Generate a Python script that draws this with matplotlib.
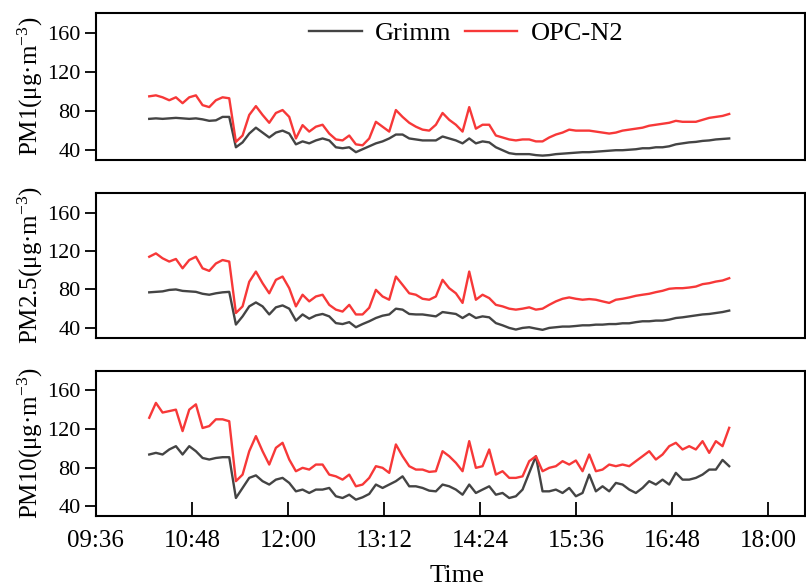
import matplotlib
matplotlib.use("Agg")
import matplotlib.pyplot as plt
import pandas as pd

plt.rcParams['font.family'] = ['Liberation Serif', 'DejaVu Serif']
plt.rcParams['mathtext.fontset'] = 'custom'
plt.rcParams['mathtext.rm'] = 'Liberation Serif'
plt.rcParams['mathtext.it'] = 'Liberation Serif:italic'

# ---- data (5-minute samples starting 10:16) ----
start_time = "2000-01-01 10:16"
step = "5min"

pm1_opc = [95, 96, 94, 91, 94, 88, 94, 96, 86, 84, 91, 94, 93,
           48.5, 55, 76, 85, 76, 68, 78, 81, 74, 52, 65.6, 59, 64, 66, 57, 51, 50,
           55, 46, 45, 52, 69, 64, 59, 81, 74, 68, 64, 61, 60,
           66, 78, 71, 66, 59, 84, 62, 66, 66, 55, 53, 51, 50, 51, 51, 49, 49,
           53, 56, 58, 61, 60, 60, 60, 59, 58, 57, 58, 60, 61, 62, 63, 65, 66,
           67, 68, 70, 69, 69, 69, 71, 73, 74, 75, 77]
pm1_grimm = [72, 72.5, 72, 72.5, 73, 72.5, 72, 72.5, 71.5, 70, 70.5, 74, 74,
             43, 48, 57, 63, 58, 53, 58, 60, 57, 46, 49, 47, 50, 52, 50, 43, 42,
             43, 38, 41, 44, 47, 49, 52, 56, 56, 52, 51, 50, 50,
             50, 54, 52, 50, 47, 52, 47, 49, 48, 43, 40, 37, 36, 36, 36, 35, 34.5,
             35, 36, 36.5, 37, 37.5, 38, 38, 38.5, 39, 39.5, 40, 40, 40.5, 41, 42, 42, 43,
             43, 44, 46, 47, 48, 48.5, 49.5, 50, 51, 51.5, 52]

pm25_opc = [114, 117.5, 112.4, 109, 111.7, 102, 110.6, 114, 102, 99.3, 107, 110.6, 109,
            55.5, 62.4, 88, 98.6, 86.5, 76, 90, 93.4, 81.3, 62.4, 74.5, 67.6, 72.7, 74.5, 64, 59, 57,
            64, 54, 54, 61, 79.6, 72.7, 69.3, 93.4, 84.8, 76, 74.5, 70.3, 69.3,
            72.7, 90, 81.3, 76, 66, 98.6, 69.3, 74.5, 71, 64, 62.4, 60, 59, 60, 61.4, 59, 60,
            64, 67.6, 70.3, 71.7, 70.3, 69.3, 70, 69.3, 67.6, 66, 69.3, 70.3, 71.7, 73.4, 74.5, 75.5, 77.2,
            78.6, 80.7, 81.3, 81.3, 82, 83, 85.5, 86.5, 88.2, 89.3, 91.7]
pm25_grimm = [77, 77.5, 78, 79.5, 80, 78.5, 78, 77.5, 75.5, 74.5, 76, 77, 77.5,
              43.5, 52, 62.4, 66.5, 62.4, 54, 61.4, 63.4, 60, 47.6, 54, 49.6, 53, 54.5, 52, 45, 44,
              46, 40.7, 44, 46.9, 50.3, 52.7, 54, 60, 59, 54.5, 54, 54, 53,
              52, 56.5, 55.5, 54.5, 50.3, 54.5, 50.3, 52, 51, 45, 42.7, 40, 38.3, 40, 40.7, 39.3, 38,
              40, 40.7, 41.4, 41.4, 42, 42.7, 42.7, 43.4, 43.4, 44, 44, 44.8, 44.8, 46, 46.9, 46.9, 47.6,
              47.6, 48.6, 50.3, 51, 52, 53, 54, 54.5, 55.5, 56.5, 58]

pm10_opc = [131.6, 147, 137, 138.5, 140, 117.8, 140, 145.5, 121, 123, 130, 130, 128,
            66, 72.8, 97, 112.6, 97, 83.2, 100.5, 105.7, 88.4, 76.3, 79.8, 78, 83.2, 83.2, 72.8, 71, 67.6,
            72.8, 60.7, 62.5, 69.4, 81.5, 79.8, 74.6, 104, 91.8, 81.5, 78, 78, 75.6,
            76.3, 97, 91.8, 85, 76.3, 107.4, 79.8, 81.5, 98.8, 72.8, 76.3, 69.4, 69.4, 71, 86.7, 91.8, 76.3,
            79.8, 81.5, 86.7, 83.2, 87.4, 76.3, 93.6, 76.3, 78, 83.2, 81.5, 83.2, 81.5, 86.7, 91.8, 97, 88.4,
            93.6, 102.2, 105.7, 98.8, 102.2, 98.8, 107.4, 95.3, 107.4, 102.2, 121.2]
pm10_grimm = [93.6, 95.3, 93.6, 98.8, 102.2, 93.6, 102.2, 97, 90, 88.4, 90, 90.8, 90.8,
              48.6, 59, 69.4, 72, 66, 62.5, 67.6, 69.4, 64.2, 55.5, 57.3, 53.8, 57.3, 57.3, 59, 50.4, 48.6,
              52, 46.9, 49.3, 52.8, 62.5, 59, 62.5, 66, 71, 60.7, 60.7, 59, 56.2,
              55.5, 62.5, 60.7, 57.3, 52, 62.5, 53.8, 57.3, 60.7, 52, 53.8, 48.6, 50.4, 57.3, 74.6, 91.8, 55.5,
              55.5, 57.3, 53.8, 59, 50.4, 53.8, 72.8, 55.5, 60.7, 55.5, 64.2, 62.5, 57.3, 53.8, 59, 66, 62.5,
              67.6, 62.5, 74.6, 67.6, 67.6, 69.4, 72.8, 78, 78, 88, 81.5]

panels = [
    (pm1_grimm, pm1_opc, r'PM1(μg·m$^{-3}$)'),
    (pm25_grimm, pm25_opc, r'PM2.5(μg·m$^{-3}$)'),
    (pm10_grimm, pm10_opc, r'PM10(μg·m$^{-3}$)'),
]
yticks = [40, 80, 120, 160]
xtick_labels = ["09:36", "10:48", "12:00", "13:12", "14:24", "15:36", "16:48", "18:00"]

grey = '#444444'
red = '#f73838'

fig = plt.figure(figsize=(8.06, 5.87), dpi=100)
rects = [
    (0.119, 0.7274, 0.880, 0.2504),
    (0.119, 0.4250, 0.880, 0.2457),
    (0.119, 0.1210, 0.880, 0.2470),
]
xmin = pd.Timestamp("2000-01-01 09:36")
xmax = pd.Timestamp("2000-01-01 18:28")
tick_times = [pd.Timestamp("2000-01-01 " + t) for t in xtick_labels]

axes = []
for k, ((g, o, lab), r) in enumerate(zip(panels, rects)):
    ax = fig.add_axes(r)
    t = pd.date_range(start_time, periods=len(g), freq=step)
    ax.plot(t, g, color=grey, lw=1.7, label='Grimm')
    t2 = pd.date_range(start_time, periods=len(o), freq=step)
    ax.plot(t2, o, color=red, lw=1.7, label='OPC-N2')
    ax.set_xlim(xmin, xmax)
    ax.set_ylim(30, 180)
    ax.set_yticks(yticks)
    ax.set_ylabel(lab, fontsize=18)
    ax.yaxis.set_label_coords(-0.072, 0.5)
    ax.tick_params(axis='y', direction='out', length=8, width=1.3, labelsize=16, pad=3)
    for s in ax.spines.values():
        s.set_linewidth(1.5)
    ax.set_xticks(tick_times)
    if k < 2:
        ax.tick_params(axis='x', bottom=False, labelbottom=False)
    else:
        ax.set_xticklabels(xtick_labels)
        ax.tick_params(axis='x', direction='in', length=10, width=1.3, labelsize=18, pad=10)
        ax.set_xlabel('Time', fontsize=19)
        ax.xaxis.set_label_coords(0.509, -0.34)
    axes.append(ax)

axes[0].legend(loc='center', bbox_to_anchor=(0.522, 0.864), ncol=2, frameon=False,
               fontsize=19, handlelength=2.0, handletextpad=0.5, columnspacing=0.5)

fig.savefig('out.png', dpi=100)
